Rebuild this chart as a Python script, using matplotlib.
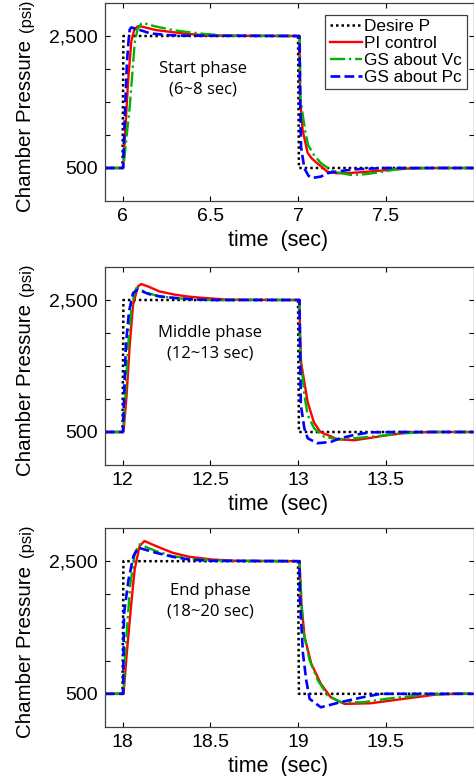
import matplotlib
matplotlib.use("Agg")
import matplotlib.pyplot as plt

plt.rcParams['font.family'] = ['Liberation Sans', 'DejaVu Sans']

# ---- data ----
series_names = ['Desire P', 'PI control', 'GS about Vc', 'GS about Pc']
phase_titles = ['Start phase\n(6~8 sec)', 'Middle phase\n(12~13 sec)', 'End phase\n(18~20 sec)']
x_limits = [(5.9, 8.0), (11.9, 14.0), (17.9, 20.0)]
x_ticks = [[6, 6.5, 7, 7.5], [12, 12.5, 13, 13.5], [18, 18.5, 19, 19.5]]
x_ticklabels = [['6', '6.5', '7', '7.5'], ['12', '12.5', '13', '13.5'], ['18', '18.5', '19', '19.5']]
y_ticks = [500, 1000, 1500, 2000, 2500]
y_ticklabels = ['500', '', '', '', '2,500']

# start phase
start_t_des = [5.9, 6.0, 6.005, 7.0, 7.005, 8.0]
start_p_des = [500, 500, 2500, 2500, 500, 500]
start_t_pi = [5.9, 6.003, 6.032, 6.05, 6.065, 6.085, 6.097, 6.19, 6.28, 6.38, 6.5, 7.008, 7.012,
              7.026, 7.055, 7.08, 7.11, 7.167, 7.22, 7.3, 7.38, 7.47, 7.56, 7.65, 7.8, 8.0]
start_p_pi = [500, 500, 1833, 2420, 2580, 2645, 2650, 2590, 2560, 2530, 2505, 2500, 1530,
              1075, 727, 640, 571, 444, 420, 425, 440, 460, 480, 495, 500, 500]
start_t_vc = [5.9, 6.005, 6.02, 6.041, 6.069, 6.085, 6.107, 6.116, 6.18, 6.285, 6.37, 6.47, 6.6,
              7.01, 7.014, 7.04, 7.057, 7.09, 7.13, 7.17, 7.205, 7.3, 7.38, 7.45, 7.56, 7.7, 8.0]
start_p_vc = [500, 500, 900, 1430, 2390, 2600, 2690, 2700, 2650, 2590, 2560, 2530, 2505,
              2500, 1530, 1075, 848, 700, 575, 500, 444, 395, 405, 430, 480, 500, 500]
start_t_pc = [5.9, 6.003, 6.013, 6.025, 6.035, 6.041, 6.05, 6.1, 6.157, 6.25, 6.35, 7.008, 7.012,
              7.017, 7.036, 7.06, 7.083, 7.13, 7.167, 7.205, 7.317, 7.5, 8.0]
start_p_pc = [500, 500, 1300, 2100, 2450, 2600, 2630, 2590, 2540, 2515, 2505, 2500, 1530,
              823, 495, 380, 350, 370, 420, 440, 480, 500, 500]

# middle phase
mid_t_des = [11.9, 12.0, 12.005, 13.0, 13.005, 14.0]
mid_p_des = [500, 500, 2500, 2500, 500, 500]
mid_t_pi = [11.9, 12.003, 12.006, 12.022, 12.041, 12.06, 12.088, 12.107, 12.15, 12.21, 12.30, 12.38,
            12.47, 12.6, 13.008, 13.012, 13.017, 13.036, 13.055, 13.09, 13.127, 13.225, 13.32,
            13.41, 13.505, 13.64, 13.8, 14.0]
mid_p_pi = [500, 500, 515, 1015, 1823, 2430, 2707, 2742, 2700, 2630, 2580, 2550,
            2530, 2505, 2500, 1970, 1560, 1255, 952, 650, 500, 390, 375,
            410, 450, 495, 500, 500]
mid_t_vc = [11.9, 12.003, 12.013, 12.032, 12.051, 12.07, 12.079, 12.15, 12.21, 12.30, 12.4, 12.5,
            13.008, 13.012, 13.036, 13.055, 13.092, 13.15, 13.225, 13.32, 13.46, 13.59, 13.75, 14.0]
mid_p_vc = [500, 500, 915, 1823, 2380, 2630, 2682, 2600, 2555, 2530, 2510, 2500,
            2500, 1700, 1060, 757, 555, 425, 390, 405, 440, 480, 500, 500]
mid_t_pc = [11.9, 12.002, 12.007, 12.019, 12.037, 12.06, 12.088, 12.15, 12.21, 12.30, 12.4, 12.5,
            13.008, 13.012, 13.016, 13.036, 13.055, 13.11, 13.187, 13.24, 13.32, 13.41, 13.6, 14.0]
mid_p_pc = [500, 500, 915, 1823, 2330, 2606, 2656, 2590, 2555, 2530, 2510, 2500,
            2500, 1700, 910, 555, 405, 330, 350, 405, 455, 495, 500, 500]

# end phase
end_t_des = [17.9, 18.0, 18.005, 19.0, 19.005, 20.0]
end_p_des = [500, 500, 2500, 2500, 500, 500]
end_t_pi = [17.9, 18.006, 18.024, 18.05, 18.069, 18.097, 18.125, 18.19, 18.285, 18.38, 18.51, 18.65,
            19.008, 19.019, 19.037, 19.075, 19.13, 19.186, 19.265, 19.415, 19.6, 19.79, 19.9, 20.0]
end_p_pi = [500, 500, 1108, 1868, 2374, 2728, 2804, 2728, 2627, 2566, 2525, 2505,
            2500, 1868, 1362, 957, 652, 449, 348, 358, 424, 490, 500, 500]
end_t_vc = [17.9, 18.005, 18.015, 18.043, 18.07, 18.097, 18.19, 18.285, 18.42, 18.6,
            19.008, 19.028, 19.066, 19.113, 19.169, 19.245, 19.37, 19.5, 19.73, 19.9, 20.0]
end_p_vc = [500, 500, 1108, 2120, 2627, 2754, 2652, 2576, 2525, 2505,
            2500, 1463, 1007, 702, 475, 373, 373, 424, 490, 500, 500]
end_t_pc = [17.9, 18.003, 18.008, 18.034, 18.062, 18.09, 18.19, 18.285, 18.38, 18.5,
            19.008, 19.01, 19.028, 19.047, 19.066, 19.13, 19.24, 19.37, 19.47, 20.0]
end_p_pc = [500, 500, 1700, 2222, 2576, 2703, 2627, 2566, 2525, 2505,
            2500, 1970, 1108, 702, 424, 297, 373, 449, 500, 500]

phases = [
    [(start_t_des, start_p_des), (start_t_pi, start_p_pi), (start_t_vc, start_p_vc), (start_t_pc, start_p_pc)],
    [(mid_t_des, mid_p_des), (mid_t_pi, mid_p_pi), (mid_t_vc, mid_p_vc), (mid_t_pc, mid_p_pc)],
    [(end_t_des, end_p_des), (end_t_pi, end_p_pi), (end_t_vc, end_p_vc), (end_t_pc, end_p_pc)],
]

colors = ['black', '#ff0000', '#00b400', '#0000ff']
styles = [(0, (1, 1.2)), '-', '-.', '--']
widths = [1.8, 1.7, 1.7, 1.9]

fig = plt.figure(figsize=(4.74, 7.76), dpi=100)
W, H = 474, 776
boxes = [(105, 3, 201), (105, 267, 465), (105, 528, 727)]  # left, top, bottom in px
text_y = [1850, 1850, 1900]
text_x = [6.46, 12.5, 18.5]

for i, (left, top, bottom) in enumerate(boxes):
    ax = fig.add_axes([left / W, 1 - bottom / H, (W - left) / W - 0.001, (bottom - top) / H])
    for j, (t, p) in enumerate(phases[i]):
        ax.plot(t, p, color=colors[j], linestyle=styles[j], linewidth=widths[j], label=series_names[j])
    ax.set_xlim(*x_limits[i])
    ax.set_ylim(0, 3000)
    ax.set_xticks(x_ticks[i])
    ax.set_xticklabels(x_ticklabels[i])
    ax.set_yticks(y_ticks)
    ax.set_yticklabels(y_ticklabels)
    ax.tick_params(direction='in', top=True, right=True, length=3.5, width=0.8,
                   labelsize=14, pad=5)
    for s in ax.spines.values():
        s.set_color('#404040')
        s.set_linewidth(0.9)
    ax.set_xlabel('time  (sec)', fontsize=15.5)
    ax.xaxis.set_label_coords(0.469, -0.145)
    ax.text(-0.200, -0.055, 'Chamber Pressure', transform=ax.transAxes, rotation=90,
            rotation_mode='anchor', ha='left', va='baseline', fontsize=14.8)
    ax.text(-0.200, 0.852, '(psi)', transform=ax.transAxes, rotation=90,
            rotation_mode='anchor', ha='left', va='baseline', fontsize=12)
    ax.text(text_x[i], text_y[i], phase_titles[i], ha='center', va='center',
            fontsize=12, family='Open Sans', linespacing=1.35)
    if i == 0:
        leg = ax.legend(loc='upper right', bbox_to_anchor=(0.981, 0.939), fontsize=12.4,
                        fancybox=False, framealpha=1, edgecolor='#404040',
                        borderpad=0.25, borderaxespad=0, handlelength=1.9,
                        handletextpad=0.12, labelspacing=0.1)
        leg.get_frame().set_linewidth(0.9)

fig.savefig('out.png', dpi=100)
